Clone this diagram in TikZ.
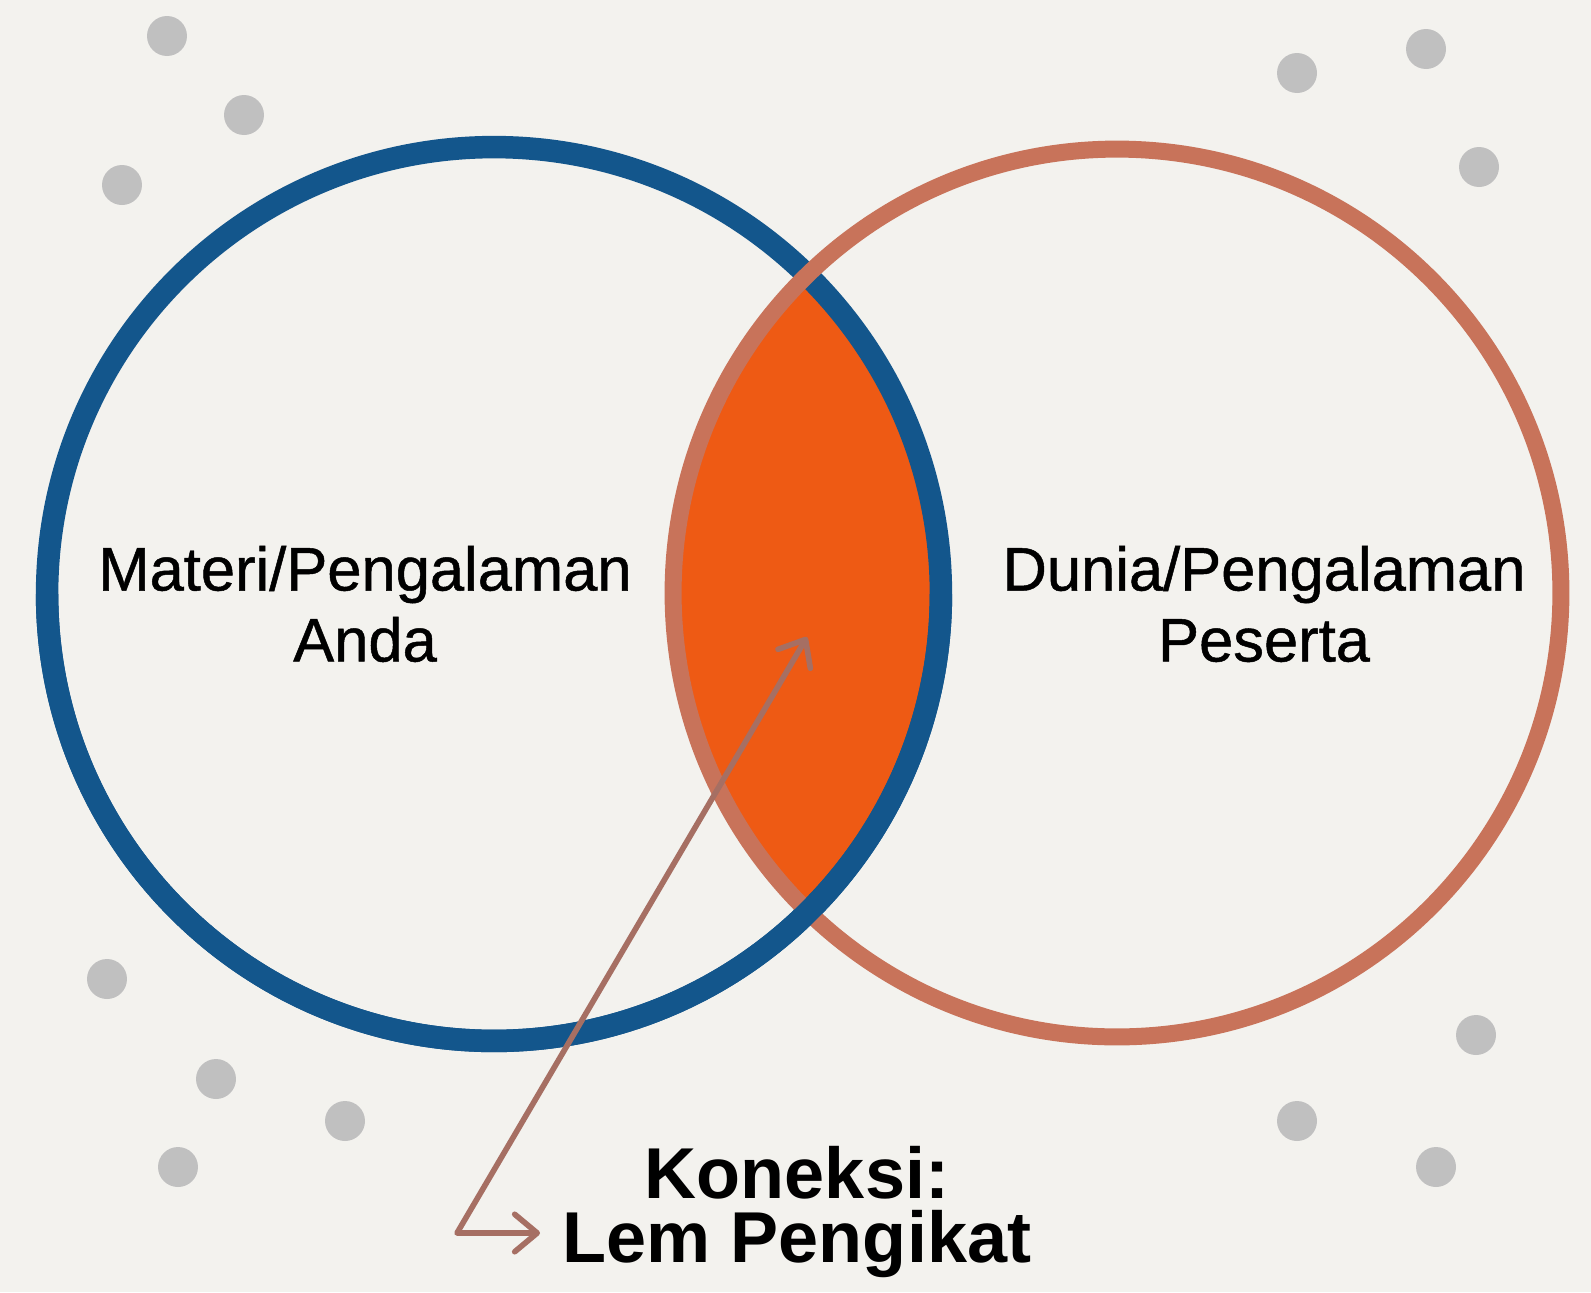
\documentclass[tikz,border=0pt]{standalone}
\usepackage{fontspec}
\setmainfont{Liberation Sans}
\newfontfamily\vennfont{Liberation Sans}[UprightFeatures={FakeBold=0.8}]
\usepackage{xcolor}
\usetikzlibrary{arrows.meta,positioning}
\definecolor{paper}{HTML}{F3F2EE}
\definecolor{dotgray}{HTML}{C0C0C0}
\definecolor{andablue}{HTML}{13568C}
\definecolor{pesertaclay}{HTML}{C8735A}
\definecolor{lemorange}{HTML}{EE5A14}
\definecolor{linkbrown}{HTML}{A66F63}

\begin{document}
\begin{tikzpicture}[
    x=0.02cm, y=-0.02cm,
    dot/.style={circle, fill=dotgray, inner sep=0pt, minimum size=0.8cm},
    bluering/.style={circle, draw=andablue, line width=0.45cm, inner sep=0pt, minimum size=17.88cm},
    clayring/.style={circle, draw=pesertaclay, line width=0.34cm, inner sep=0pt, minimum size=17.76cm},
    venntext/.style={align=center, inner sep=0pt, font=\vennfont\fontsize{35}{40.4}\selectfont},
    gluetext/.style={align=center, inner sep=0pt, font=\fontsize{41}{36.4}\selectfont\bfseries},
    arrow/.style={{Straight Barb[length=4.5mm,width=7.5mm,round]}-{Straight Barb[length=4.5mm,width=7.5mm,round]}, line width=3.2pt, line cap=round, line join=round, draw=linkbrown}
]
\useasboundingbox (0,0) rectangle (1591,1292);
\fill[paper] (0,0) rectangle (1591,1292);

\foreach \x/\y [count=\i] in {167/36, 244/115, 122/185, 1297/73, 1426/49, 1479/167,
    107/979, 216/1079, 345/1121, 178/1167, 1476/1035, 1297/1121, 1436/1167}
  \node[dot] (dot\i) at (\x,\y) {};

\coordinate (andac) at (494,594);
\coordinate (pesertac) at (1117,593);

\begin{scope}
  \clip (andac) circle (8.94cm);
  \fill[lemorange] (pesertac) circle (8.88cm);
\end{scope}

\node[bluering] (anda) at (andac) {};
\node[clayring] (peserta) at (pesertac) {};
\begin{scope}
  \clip (0,594) rectangle (1591,1292);
  \node[bluering] at (andac) {};
\end{scope}

\node[venntext] (andatext) at (365,604) {Materi/Pengalaman\\Anda};
\node[venntext] (pesertatext) at (1264,604) {Dunia/Pengalaman\\Peserta};
\node[gluetext] (koneksi) at (797,1212) {Koneksi:\\Lem Pengikat};

\coordinate (lem) at (807,637);
\coordinate (bend) at (457,1233);
\coordinate (lempoint) at (540,1233);

\draw[arrow] (lem) -- (bend) -- (lempoint);
\end{tikzpicture}
\end{document}
